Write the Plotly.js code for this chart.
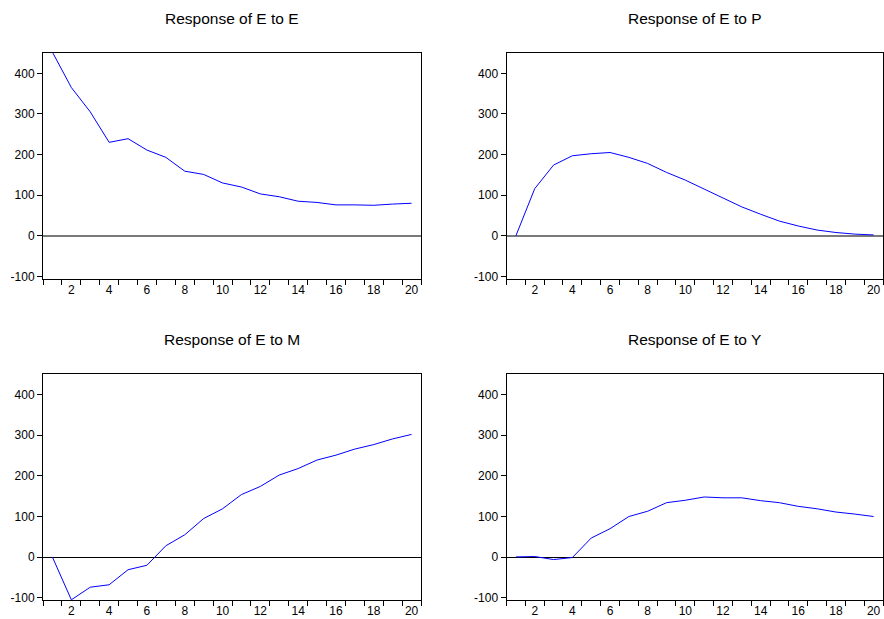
<!DOCTYPE html>
<html>
<head>
<meta charset="utf-8">
<script src="https://cdn.plot.ly/plotly-3.0.1.min.js"></script>
<style>
  html, body { margin: 0; padding: 0; background: #ffffff; }
  #chart { width: 884px; height: 619px; }
</style>
</head>
<body>
<div id="chart"></div>
<script>
// Periods 1..20
const periods = [1,2,3,4,5,6,7,8,9,10,11,12,13,14,15,16,17,18,19,20];

// Impulse responses
const respEtoE = [452,365,305,230,239,211,193,159,151,130,120,103,96,85,82,76,76,75,78,80];
const respEtoP = [0,116,174,197,202,205,193,178,156,137,115,94,71,53,36,24,14,8,4,2];
const respEtoM = [0,-105,-74,-68,-31,-20,28,55,95,119,154,174,202,218,239,251,266,277,291,302];
const respEtoY = [0.5,1.5,-6,-1,47,70,100,113,134,140,148,146,146,139,134,125,119,111,106,100];

const panelTitles = ["Response of E to E", "Response of E to P", "Response of E to M", "Response of E to Y"];

const xTickLabelVals = [2,4,6,8,10,12,14,16,18,20];
const xTickLabelText = ["2","4","6","8","10","12","14","16","18","20"];
const xTickMarkVals = [0.5,1.5,2.5,3.5,4.5,5.5,6.5,7.5,8.5,9.5,10.5,11.5,12.5,13.5,14.5,15.5,16.5,17.5,18.5,19.5,20.5];
const yTickVals = [-100,0,100,200,300,400];
const yTickText = ["-100","0","100","200","300","400"];

const series = [respEtoE, respEtoP, respEtoM, respEtoY];

const W = 884, H = 619;
const xDomains = [[43/W, 421/W], [506.5/W, 883/W]];
const yDomains = [[1-279/H, 1-53/H], [1-600/H, 1-374.3/H]];
const yRanges = [[-106.5, 450], [-105.5, 450]];
const zeroColors = ["#7a7a7a", "#000000"];
const zeroWidths = [1.6, 1];

const traces = [];
const layout = {
  width: W, height: H,
  margin: {l: 0, r: 0, t: 0, b: 0},
  paper_bgcolor: "#ffffff",
  plot_bgcolor: "#ffffff",
  showlegend: false,
  font: {family: "Liberation Sans, Arial, sans-serif", color: "#000000", size: 12},
  annotations: []
};

for (let i = 0; i < 4; i++) {
  const row = Math.floor(i / 2), col = i % 2;
  const xa = i === 0 ? "xaxis" : "xaxis" + (i + 1);
  const ya = i === 0 ? "yaxis" : "yaxis" + (i + 1);
  const xr = i === 0 ? "x" : "x" + (i + 1);
  const yr = i === 0 ? "y" : "y" + (i + 1);

  traces.push({
    x: periods, y: series[i],
    xaxis: xr, yaxis: yr,
    type: "scatter", mode: "lines",
    line: {color: "#0000ff", width: 1},
    hoverinfo: "x+y"
  });

  layout[xa] = {
    domain: xDomains[col],
    anchor: yr,
    range: [0.5, 20.5],
    tickmode: "array",
    tickvals: xTickLabelVals,
    ticktext: xTickLabelText,
    ticks: "",
    minor: {tickmode: "array", tickvals: xTickMarkVals, ticks: "outside", ticklen: 5, tickwidth: 1, tickcolor: "#000000", showgrid: false},
    showgrid: false,
    zeroline: false,
    showline: true, linecolor: "#000000", linewidth: 1, mirror: true,
    tickfont: {size: 12, color: "#000000"},
    fixedrange: true
  };
  layout[ya] = {
    domain: yDomains[row],
    anchor: xr,
    range: yRanges[row],
    tickmode: "array",
    tickvals: yTickVals,
    ticktext: yTickText,
    ticks: "outside", ticklen: 5, tickwidth: 1, tickcolor: "#000000",
    showgrid: false,
    zeroline: true, zerolinecolor: zeroColors[row], zerolinewidth: zeroWidths[row],
    showline: true, linecolor: "#000000", linewidth: 1, mirror: true,
    tickfont: {size: 12, color: "#000000"},
    fixedrange: true
  };

  layout.annotations.push({
    text: panelTitles[i],
    xref: "paper", yref: "paper",
    x: (xDomains[col][0] + xDomains[col][1]) / 2,
    y: yDomains[row][1],
    xanchor: "center", yanchor: "bottom",
    yshift: 24,
    showarrow: false,
    font: {size: 15.5, color: "#000000", family: "Liberation Sans, Arial, sans-serif"}
  });
}

Plotly.newPlot("chart", traces, layout, {displayModeBar: false, staticPlot: true});
</script>
</body>
</html>
